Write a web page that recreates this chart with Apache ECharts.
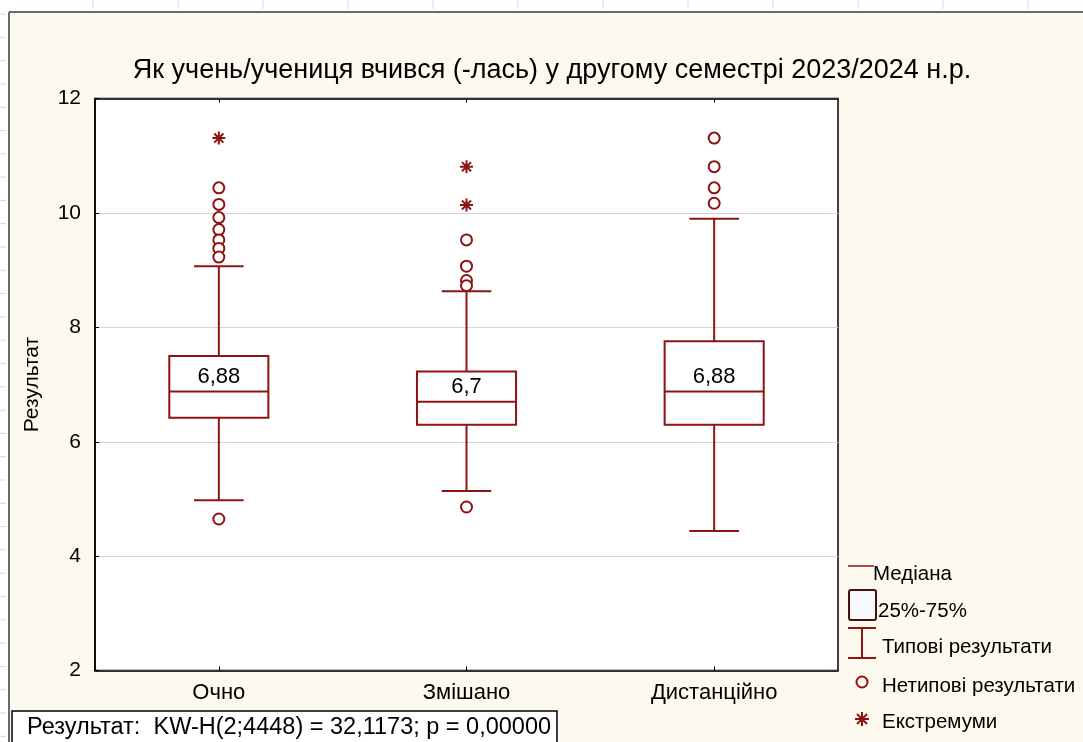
<!DOCTYPE html>
<html>
<head>
<meta charset="utf-8">
<script src="https://cdn.jsdelivr.net/npm/echarts@6/dist/echarts.min.js"></script>
<style>
html,body{margin:0;padding:0;background:#fff;}
#chart{width:1083px;height:742px;}
</style>
</head>
<body>
<div id="chart"></div>
<script>
// ---- data ----
const categories = ['Очно', 'Змішано', 'Дистанційно'];
const whiskerLow = [4.98, 5.14, 4.44];
const q1 = [6.42, 6.30, 6.30];
const median = [6.88, 6.70, 6.88];
const q3 = [7.50, 7.23, 7.76];
const whiskerHigh = [9.07, 8.63, 9.90];
const outliersOchno = [10.44, 10.15, 9.92, 9.71, 9.53, 9.38, 9.23, 4.65];
const outliersMixed = [9.53, 9.07, 8.82, 8.73, 4.86];
const outliersDistance = [11.31, 10.81, 10.44, 10.17];
const extremesOchno = [11.31];
const extremesMixed = [10.81, 10.14];
const extremesDistance = [];
const yTicks = [2, 4, 6, 8, 10, 12];
const titleText = 'Як учень/учениця вчився (-лась) у другому семестрі 2023/2024 н.р.';
const yAxisName = 'Результат';
const statText = 'Результат:  KW-H(2;4448) = 32,1173; p = 0,00000';
const legendLabels = ['Медіана', '25%-75%', 'Типові результати', 'Нетипові результати', 'Екстремуми'];

// ---- build ----
const RED = '#8e1313';
const FONT = '"Liberation Sans", Arial, sans-serif';
const boxData = categories.map((c, i) => [i, whiskerLow[i], q1[i], median[i], q3[i], whiskerHigh[i]]);
const outlierGroups = [outliersOchno, outliersMixed, outliersDistance];
const extremeGroups = [extremesOchno, extremesMixed, extremesDistance];
const outlierData = [];
outlierGroups.forEach((g, i) => g.forEach(v => outlierData.push([i, v])));
const extremeData = [];
extremeGroups.forEach((g, i) => g.forEach(v => extremeData.push([i, v])));

const asterisk = 'path://M0,5L10,5M5,0L5,10M1.5,1.5L8.5,8.5M8.5,1.5L1.5,8.5';

function renderBox(params, api) {
  const idx = api.value(0);
  const pLow = api.coord([idx, api.value(1)]);
  const pQ1 = api.coord([idx, api.value(2)]);
  const pMed = api.coord([idx, api.value(3)]);
  const pQ3 = api.coord([idx, api.value(4)]);
  const pHigh = api.coord([idx, api.value(5)]);
  const band = api.size([1, 0])[0];
  const bw = band * 0.4;
  const cw = band * 0.2;
  const cx = pMed[0];
  const ls = {stroke: RED, lineWidth: 2};
  const label = String(api.value(3)).replace('.', ',');
  return {
    type: 'group',
    children: [
      {type: 'line', shape: {x1: cx, y1: pQ3[1], x2: cx, y2: pHigh[1]}, style: ls},
      {type: 'line', shape: {x1: cx, y1: pQ1[1], x2: cx, y2: pLow[1]}, style: ls},
      {type: 'line', shape: {x1: cx - cw / 2, y1: pHigh[1], x2: cx + cw / 2, y2: pHigh[1]}, style: ls},
      {type: 'line', shape: {x1: cx - cw / 2, y1: pLow[1], x2: cx + cw / 2, y2: pLow[1]}, style: ls},
      {type: 'rect', shape: {x: cx - bw / 2, y: pQ3[1], width: bw, height: pQ1[1] - pQ3[1]},
        style: {fill: '#fff', stroke: RED, lineWidth: 2}},
      {type: 'line', shape: {x1: cx - bw / 2, y1: pMed[1], x2: cx + bw / 2, y2: pMed[1]}, style: ls},
      {type: 'text', style: {text: label, x: cx, y: pMed[1] - 4, align: 'center', verticalAlign: 'bottom',
        font: '22px ' + FONT, fill: '#000'}}
    ]
  };
}

// background frame graphics
const graphics = [];
graphics.push({type: 'rect', shape: {x: 0, y: 0, width: 1083, height: 12}, style: {fill: '#fff'}, silent: true, z: -10});
graphics.push({type: 'rect', shape: {x: 0, y: 0, width: 9, height: 742}, style: {fill: '#fff'}, silent: true, z: -10});
for (let x = 93; x < 1083; x += 85) {
  graphics.push({type: 'line', shape: {x1: x, y1: 0, x2: x, y2: 9}, style: {stroke: '#d8d8d8', lineWidth: 1}, silent: true});
}
for (let y = 14; y < 742; y += 23.3) {
  graphics.push({type: 'line', shape: {x1: 0, y1: y, x2: 6, y2: y}, style: {stroke: '#d8d8d8', lineWidth: 1}, silent: true});
}
graphics.push({type: 'line', shape: {x1: 9, y1: 12, x2: 1083, y2: 12}, style: {stroke: '#6a6a6a', lineWidth: 2}, silent: true});
graphics.push({type: 'line', shape: {x1: 9, y1: 12, x2: 9, y2: 742}, style: {stroke: '#6a6a6a', lineWidth: 2}, silent: true});
// title
graphics.push({type: 'text', style: {text: titleText, x: 552, y: 71, align: 'center', verticalAlign: 'middle', font: '27px ' + FONT, fill: '#000'}});
// stat box
graphics.push({type: 'rect', shape: {x: 12, y: 711, width: 545, height: 40}, style: {fill: '#fff', stroke: '#000', lineWidth: 1.5}, z: 10});
graphics.push({type: 'text', style: {text: statText, x: 27, y: 728, align: 'left', verticalAlign: 'middle', font: '23.5px ' + FONT, fill: '#000'}, z: 11});
// legend
const LF = '20.5px ' + FONT;
graphics.push({type: 'line', shape: {x1: 848, y1: 566, x2: 874, y2: 566}, style: {stroke: RED, lineWidth: 1.5}});
graphics.push({type: 'text', style: {text: legendLabels[0], x: 873, y: 574, verticalAlign: 'middle', font: LF, fill: '#000'}});
graphics.push({type: 'rect', shape: {x: 849, y: 590, width: 27, height: 30, r: 2}, style: {fill: '#f8f8ff', stroke: '#4a1010', lineWidth: 2}});
graphics.push({type: 'text', style: {text: legendLabels[1], x: 878, y: 611, verticalAlign: 'middle', font: LF, fill: '#000'}});
graphics.push({type: 'line', shape: {x1: 848, y1: 628, x2: 876, y2: 628}, style: {stroke: RED, lineWidth: 2}});
graphics.push({type: 'line', shape: {x1: 848, y1: 658, x2: 876, y2: 658}, style: {stroke: RED, lineWidth: 2}});
graphics.push({type: 'line', shape: {x1: 862, y1: 628, x2: 862, y2: 658}, style: {stroke: RED, lineWidth: 2}});
graphics.push({type: 'text', style: {text: legendLabels[2], x: 882, y: 647, verticalAlign: 'middle', font: LF, fill: '#000'}});
graphics.push({type: 'circle', shape: {cx: 862, cy: 682, r: 5.5}, style: {fill: 'none', stroke: RED, lineWidth: 2}});
graphics.push({type: 'text', style: {text: legendLabels[3], x: 882, y: 686, verticalAlign: 'middle', font: LF, fill: '#000'}});
const astSegs = [[855, 719, 869, 719], [862, 712, 862, 726], [857, 714, 867, 724], [867, 714, 857, 724]];
astSegs.forEach(s => graphics.push({type: 'line', shape: {x1: s[0], y1: s[1], x2: s[2], y2: s[3]}, style: {stroke: RED, lineWidth: 2}}));
graphics.push({type: 'text', style: {text: legendLabels[4], x: 882, y: 722, verticalAlign: 'middle', font: LF, fill: '#000'}});

const chart = echarts.init(document.getElementById('chart'), null, {renderer: 'canvas'});
chart.setOption({
  backgroundColor: '#fef9ef',
  animation: false,
  textStyle: {fontFamily: FONT},
  grid: {left: 95, right: 245, top: 98.6, bottom: 71.4, show: true, backgroundColor: '#fff', borderColor: '#000', borderWidth: 1.5},
  xAxis: [
    {type: 'category', data: categories, boundaryGap: true, position: 'bottom',
      axisLine: {show: true, lineStyle: {color: '#000', width: 1.5}},
      axisTick: {show: true, inside: true, alignWithLabel: true, length: 4, lineStyle: {color: '#000'}},
      axisLabel: {color: '#000', fontSize: 22, margin: 11, fontFamily: FONT},
      splitLine: {show: false}},
    {type: 'category', data: categories, boundaryGap: true, position: 'top',
      axisLine: {show: true, lineStyle: {color: '#000', width: 1.5}},
      axisTick: {show: true, inside: true, alignWithLabel: true, length: 4, lineStyle: {color: '#000'}},
      axisLabel: {show: false}, splitLine: {show: false}}
  ],
  yAxis: {
    type: 'value', min: yTicks[0], max: yTicks[yTicks.length - 1], interval: 2,
    name: yAxisName, nameLocation: 'middle', nameGap: 52, nameRotate: 90,
    nameTextStyle: {color: '#000', fontSize: 21, fontFamily: FONT},
    axisLine: {show: true, lineStyle: {color: '#000', width: 1.5}},
    axisTick: {show: true, inside: true, length: 4, lineStyle: {color: '#000'}},
    axisLabel: {color: '#000', fontSize: 21, margin: 14, fontFamily: FONT},
    splitLine: {show: true, lineStyle: {color: '#d4d4d4', width: 1}}
  },
  graphic: graphics,
  series: [
    {type: 'custom', renderItem: renderBox, data: boxData, encode: {x: 0, y: [1, 2, 3, 4, 5]}, z: 3},
    {type: 'scatter', data: outlierData, symbol: 'circle', symbolSize: 11,
      itemStyle: {color: '#fff', borderColor: RED, borderWidth: 2, opacity: 1}, z: 4},
    {type: 'scatter', data: extremeData, symbol: asterisk, symbolSize: 13,
      itemStyle: {color: 'none', borderColor: RED, borderWidth: 2, opacity: 1}, z: 4}
  ]
});
</script>
</body>
</html>
